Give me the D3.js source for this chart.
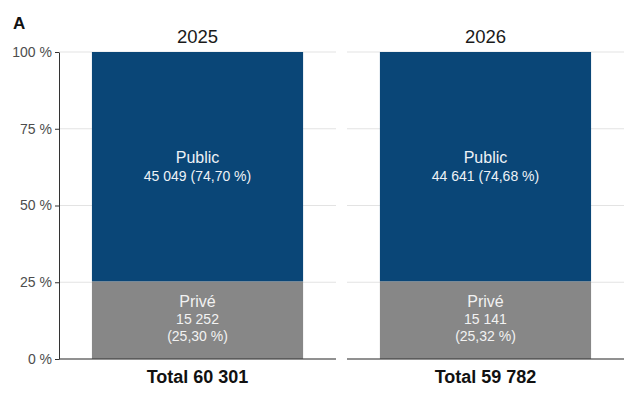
<!DOCTYPE html>
<html>
<head>
<meta charset="utf-8">
<script src="https://cdn.jsdelivr.net/npm/d3@7"></script>
<style>
  body { margin: 0; background: #fff; }
  svg { font-family: "Liberation Sans", Arial, sans-serif; }
</style>
</head>
<body>
<div id="chart"></div>
<script>
const years = ["2025", "2026"];
const totals = [60301, 59782];
const priveValues = [15252, 15141];
const publicValues = [45049, 44641];
const priveShares = [25.30, 25.32];
const publicShares = [74.70, 74.68];
const yTicks = [0, 25, 50, 75, 100];

const fr = d3.formatLocale({ decimal: ",", thousands: " ", grouping: [3], currency: ["", " €"] });
const fmtInt = fr.format(",d");
const fmtPct = fr.format(".2f");

const svg = d3.select("#chart").append("svg").attr("width", 625).attr("height", 400);

const panel = d3.scaleBand().domain(years).range([59, 624]).paddingInner(0.038);
const y = d3.scaleLinear().domain([0, 100]).range([359, 52]);

// gridlines, per panel
years.forEach(yr => {
  svg.append("g").selectAll("line")
    .data(yTicks)
    .enter().append("line")
    .attr("x1", panel(yr))
    .attr("x2", panel(yr) + panel.bandwidth())
    .attr("y1", d => y(d))
    .attr("y2", d => y(d))
    .attr("stroke", "#e3e3e3")
    .attr("stroke-width", 1);
});

years.forEach((yr, i) => {
  const x = d3.scaleBand().domain([yr]).range([panel(yr), panel(yr) + panel.bandwidth()]).paddingOuter(0.156).paddingInner(0);
  const cx = x(yr) + x.bandwidth() / 2;
  const g = svg.append("g");

  const segs = [
    { name: "Privé", value: priveValues[i], share: priveShares[i], y0: 0, y1: priveShares[i], color: "#878787" },
    { name: "Public", value: publicValues[i], share: publicShares[i], y0: priveShares[i], y1: 100, color: "#0a4677" }
  ];

  g.selectAll("rect")
    .data(segs)
    .enter().append("rect")
    .attr("x", x(yr))
    .attr("width", x.bandwidth())
    .attr("y", d => y(d.y1))
    .attr("height", d => y(d.y0) - y(d.y1))
    .attr("fill", d => d.color);

  // Public label
  const pubMid = (y(segs[1].y0) + y(segs[1].y1)) / 2;
  g.append("text").attr("x", cx).attr("y", pubMid - 4)
    .attr("text-anchor", "middle").style("font-size", "16px").style("fill", "#eef2f6")
    .text("Public");
  g.append("text").attr("x", cx).attr("y", pubMid + 14)
    .attr("text-anchor", "middle").style("font-size", "14px").style("fill", "#eef2f6")
    .text(`${fmtInt(segs[1].value)} (${fmtPct(segs[1].share)} %)`);

  // Privé label
  const privMid = (y(segs[0].y0) + y(segs[0].y1)) / 2;
  g.append("text").attr("x", cx).attr("y", privMid - 13)
    .attr("text-anchor", "middle").style("font-size", "16px").style("fill", "#f2f2f2")
    .text("Privé");
  g.append("text").attr("x", cx).attr("y", privMid + 4)
    .attr("text-anchor", "middle").style("font-size", "14px").style("fill", "#f2f2f2")
    .text(fmtInt(segs[0].value));
  g.append("text").attr("x", cx).attr("y", privMid + 21)
    .attr("text-anchor", "middle").style("font-size", "14px").style("fill", "#f2f2f2")
    .text(`(${fmtPct(segs[0].share)} %)`);

  // panel title
  svg.append("text").attr("x", cx).attr("y", 43)
    .attr("text-anchor", "middle").style("font-size", "18.5px").style("fill", "#1a1a1a")
    .text(yr);

  // x axis line
  svg.append("line")
    .attr("x1", panel(yr)).attr("x2", panel(yr) + panel.bandwidth())
    .attr("y1", y(0)).attr("y2", y(0))
    .attr("stroke", "#333").attr("stroke-width", 1.2);

  // total label
  svg.append("text").attr("x", cx).attr("y", 383)
    .attr("text-anchor", "middle").style("font-size", "18px").style("font-weight", "bold").style("fill", "#111")
    .text(`Total ${fmtInt(totals[i])}`);
});

// Y axis on first panel
const yAxis = svg.append("g")
  .attr("transform", `translate(${panel(years[0])},0)`)
  .call(d3.axisLeft(y).tickValues(yTicks).tickSize(4).tickSizeOuter(0).tickFormat(d => d + " %"));
yAxis.select(".domain").attr("stroke", "#333");
yAxis.selectAll(".tick line").attr("stroke", "#333");
yAxis.selectAll(".tick text").style("font-size", "14px").style("fill", "#4d4d4d").style("font-family", "Liberation Sans, Arial, sans-serif");

svg.append("text").attr("x", 13).attr("y", 29)
  .style("font-size", "17px").style("font-weight", "bold").style("fill", "#111")
  .text("A");
</script>
</body>
</html>
